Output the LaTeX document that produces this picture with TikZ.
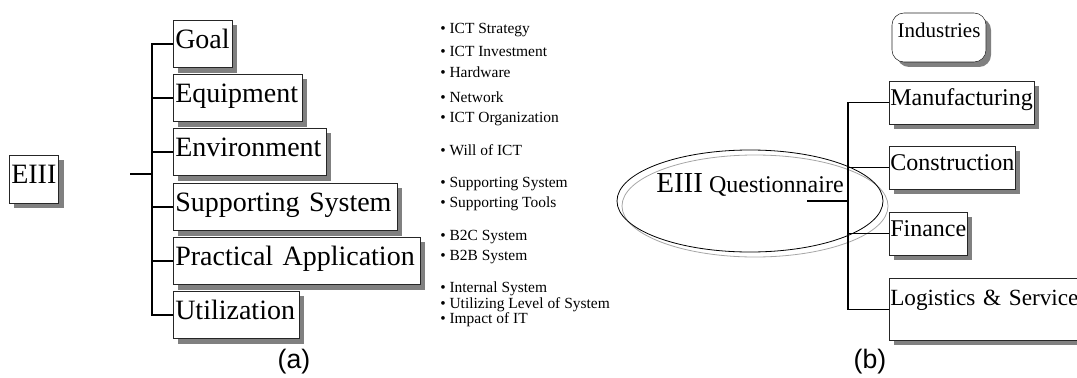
\documentclass[tikz,border=0pt]{standalone}
\usepackage{fontspec}
\setmainfont{Liberation Serif}
\newfontfamily\capfont{Liberation Sans}
\usetikzlibrary{shadows,shapes.geometric}

\tikzset{
  shad/.style={drop shadow={shadow xshift=3.75pt,shadow yshift=-3.75pt,fill=gray,opacity=1}},
  dimbox/.style={draw=black!85,fill=white,shad,anchor=north west,align=left,
    inner ysep=0pt,inner xsep=1.5pt,text height=21pt,text depth=14.6pt,
    font=\fontsize{21}{21}\selectfont,text width=#1},
  indbox/.style={draw=black!85,fill=white,shad,anchor=north west,align=left,
    inner ysep=0pt,inner xsep=0.75pt,text height=18pt,text depth=14.25pt,
    font=\fontsize{18}{18}\selectfont},
  bul/.style={anchor=base west,inner sep=0pt,font=\fontsize{11.6}{12}\selectfont},
  qell/.style={ellipse,inner sep=0pt,minimum width=199.5pt,minimum height=76.5pt},
  conn/.style={line width=1pt},
  figlabel/.style={font=\capfont\fontsize{20}{20}\selectfont,inner sep=0pt}
}

\begin{document}
\begin{tikzpicture}[x=0.75pt,y=-0.75pt]
\useasboundingbox (0,0) rectangle (1077,378);
\clip (0,0) rectangle (1077,378);

% (a) dimensions of EIII
\node[dimbox=34pt,text depth=15pt] (eiii) at (9,155) {EIII};
\coordinate (astub) at (130,174);
\coordinate (aspine) at (152,174);

\node[dimbox=41pt] (goal) at (173,20) {Goal};
\node[dimbox=93.75pt] (equip) at (173,74) {Equipment};
\node[dimbox=111.75pt] (envir) at (173,128) {Environment};
\node[dimbox=165pt] (supp) at (173,183) {Supporting System};
\node[dimbox=182.25pt] (pract) at (173,237) {Practical Application};
\node[dimbox=91.5pt] (util) at (173,291) {Utilization};

\draw[conn] (astub) -- (aspine);
\foreach \n in {goal,equip,envir,supp,pract,util}
  \draw[conn] (aspine) |- (\n.west);

% items
\foreach \y/\t [count=\i] in {34/ICT Strategy,56/ICT Investment,78/Hardware,
    103/Network,122/ICT Organization,155/Will of ICT,187/Supporting System,
    207/Supporting Tools,240/B2C System,260/B2B System,292/Internal System,
    308/Utilizing Level of System,323/Impact of IT}
  \node[bul] (it\i) at (440,\y) {\textbullet\ \t};

\node[figlabel] (capa) at (294,362) {(a)};

% (b) industries
\node[qell,draw=gray!70,line width=0.6pt] (qshad) at (755,206) {};
\node[qell,draw,line width=0.6pt,text height=16pt,text depth=29.5pt] (quest) at (750,201)
  {{\fontsize{21.75}{22}\selectfont EIII}{\fontsize{18}{18}\selectfont{} Questionnaire}};

\node[draw=black!85,fill=white,shad,rounded corners=9pt,minimum width=70.5pt,
  minimum height=36.75pt,inner sep=0pt,text height=15pt,text depth=15pt,
  font=\fontsize{15.75}{16}\selectfont] (indu) at (939,37.5) {Industries};

\node[indbox] (manu) at (889,81) {Manufacturing};
\node[indbox] (cons) at (889,146) {Construction};
\node[indbox] (fina) at (889,212) {Finance};
\node[indbox,text width=149pt,text height=20.25pt,text depth=26.25pt,
  font=\fontsize{17.4}{18}\selectfont] (logi) at (889,278)
  {Logistics \& Service};

\coordinate (bstub) at (807,201);
\coordinate (bspine) at (848,201);
\draw[conn] (bstub) -- (bspine);
\foreach \n in {manu,cons,fina,logi}
  \draw[line width=0.8pt] (bspine) |- (\n.west);

\node[figlabel] (capb) at (870,362) {(b)};
\end{tikzpicture}
\end{document}
